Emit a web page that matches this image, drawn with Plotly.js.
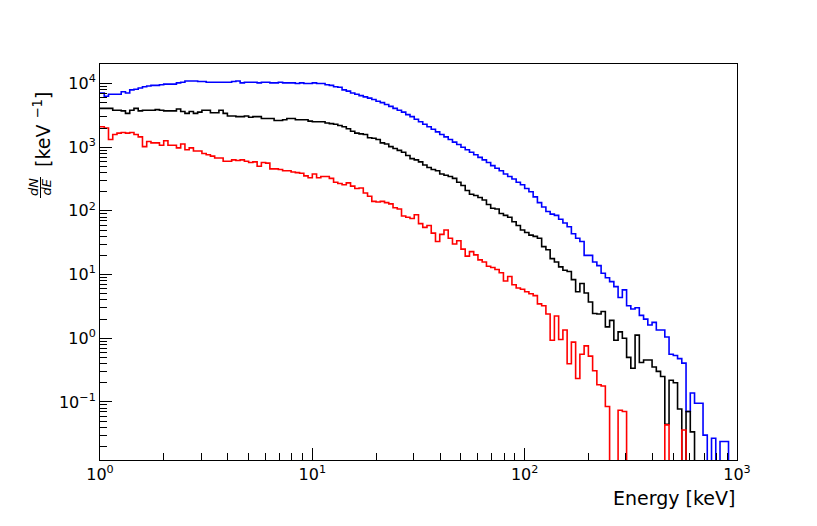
<!DOCTYPE html>
<html>
<head>
<meta charset="utf-8">
<script src="https://cdn.plot.ly/plotly-3.0.1.min.js"></script>
<style>html,body{margin:0;padding:0;background:#fff}#chart{width:817px;height:526px}</style>
</head>
<body>
<div id="chart"></div>
<script>
// Histogram binning: 150 log-spaced bins between 1 keV and 1000 keV
const binCount = 150;
const eMin = 1, eMax = 1000;

// dN/dE per bin, blue series
const blueValues = [
7080,6310,6760,6760,6760,7410,7080,7940,8130,8510,
8910,9120,9330,9330,9550,9770,9770,9770,10230,10470,
10960,10960,10960,10720,10720,10470,10470,10470,10470,10470,
10470,10720,10960,10230,10470,10470,10470,10230,10470,10470,
10230,10230,10470,10230,10230,10230,10000,10230,10000,10000,
10230,10000,10000,9550,9330,8910,8710,7940,7590,7080,
6760,6460,6170,5890,5620,5250,5010,4680,4370,4070,
3800,3550,3240,3020,2750,2510,2290,2090,1910,1740,
1580,1450,1320,1200,1100,1000,912,832,759,692,
631,575,513,468,427,380,347,316,282,257,
224,200,166,135,115,97.7,89.1,85.1,74.1,64.6,
56.2,43.7,37.2,33.1,20.0,20.0,15.8,13.8,10.5,8.91,
7.76,6.46,4.37,5.75,3.24,2.88,3.02,2.29,2.00,1.62,
1.78,1.35,1.35,1.05,0.562,0.537,0.479,0.407,0.0708,0.138,
0.0955,0.0955,0.0302,0,0.0269,0,0.0240,0.0240,0,0
];

// dN/dE per bin, black series
const blackValues = [
4070,4070,4070,3800,3800,3720,3390,3800,4070,3720,
3800,3800,3800,3890,3800,3720,3720,3720,3980,3630,
3390,3630,3390,3550,3800,3800,3470,3470,3800,3390,
3090,3090,3020,3020,3090,2950,3020,3020,2820,2820,
2820,2630,2630,2690,2820,2820,2690,2690,2690,2570,
2510,2510,2510,2400,2340,2290,2190,2090,1950,1780,
1660,1620,1580,1410,1380,1320,1170,1120,1020,955,
891,832,741,661,631,589,525,479,447,427,
380,363,347,324,282,251,209,182,174,162,
148,126,110,107,91.2,85.1,79.4,67.6,58.9,50.1,
45.7,41.7,39.8,37.2,27.5,24.5,17.8,15.8,13.2,11.7,
11.2,8.32,5.37,7.24,5.13,3.72,2.45,2.40,2.63,1.51,
1.91,0.933,1.26,1.00,0.501,0.339,1.12,0.417,0.457,0.457,
0.355,0.302,0.251,0.0447,0.219,0.200,0.0776,0,0.0708,0.0339,
0,0,0,0,0,0,0,0,0,0
];

// dN/dE per bin, red series
const redValues = [
2090,2000,1320,1580,1660,1700,1660,1700,1580,1450,
1020,1230,1170,1170,1070,1260,1070,1070,977,1120,
912,977,871,871,794,759,724,676,676,603,
603,631,617,631,603,575,589,501,575,562,
457,457,447,427,427,407,398,389,355,331,
380,331,347,347,324,282,269,257,275,245,
224,229,191,170,141,138,141,135,129,112,
107,83.2,79.4,75.9,87.1,63.1,55.0,58.9,44.7,33.1,
42.7,50.1,37.2,30.2,33.9,25.1,19.5,22.9,20.4,17.0,
15.8,13.5,12.9,12.0,10.7,7.94,9.33,6.92,6.17,5.89,
5.37,5.01,4.68,3.47,3.24,2.40,0.933,2.24,0.955,1.35,
0.398,0.871,0.234,0.562,0.759,0.525,0.309,0.186,0.178,0.0851,
0,0,0.0741,0.0708,0,0,0,0,0,0,
0,0,0,0.0437,0,0,0,0.0363,0,0,
0,0,0,0,0,0,0,0,0,0
];

const seriesColors = ['#0000ff', '#000000', '#ff0000'];

// Axis tick labels
const xTickVals = [1, 10, 100, 1000];
const xTickText = ['10<sup>0</sup>', '10<sup>1</sup>', '10<sup>2</sup>', '10<sup>3</sup>'];
const yTickVals = [0.1, 1, 10, 100, 1000, 10000];
const yTickText = ['10<sup>\u22121</sup>', '10<sup>0</sup>', '10<sup>1</sup>', '10<sup>2</sup>', '10<sup>3</sup>', '10<sup>4</sup>'];

// bin edges (log spaced)
const lo = Math.log10(eMin), hi = Math.log10(eMax);
const edges = [];
for (let i = 0; i <= binCount; i++) edges.push(Math.pow(10, lo + (hi - lo) * i / binCount));

function minorTicks(decLo, decHi) {
  const out = [];
  for (let d = decLo; d < decHi; d++) for (let m = 2; m <= 9; m++) out.push(m * Math.pow(10, d));
  return out;
}

const FLOOR = 1e-5; // empty bins drop below the visible range
function stepTrace(vals, color) {
  const y = vals.map(v => (v > 0 ? v : FLOOR));
  y.push(y[y.length - 1]);
  return {
    x: edges, y: y, type: 'scatter', mode: 'lines',
    line: {shape: 'hv', color: color, width: 1.6},
    hoverinfo: 'skip', showlegend: false
  };
}

const traces = [
  stepTrace(blueValues, seriesColors[0]),
  stepTrace(blackValues, seriesColors[1]),
  stepTrace(redValues, seriesColors[2])
];

const FONT = 'DejaVu Sans, Arial, sans-serif';
// plot area in pixels: x 100..737, y 64..460
const L = 100, R = 80, T = 64, B = 66, W = 817 - L - R, H = 526 - T - B;
const px = x => (x - L) / W;
const py = y => (526 - B - y) / H;

const layout = {
  width: 817, height: 526,
  margin: {l: L, r: R, t: T, b: B, pad: 0},
  paper_bgcolor: '#ffffff', plot_bgcolor: '#ffffff',
  font: {family: FONT, size: 16, color: '#000'},
  xaxis: {
    type: 'log', range: [0, 3], showgrid: false, zeroline: false,
    showline: true, linecolor: '#000', linewidth: 1, mirror: true,
    tickmode: 'array', tickvals: xTickVals, ticktext: xTickText,
    ticks: 'inside', ticklen: 12, tickwidth: 1, tickcolor: '#000',
    tickfont: {family: FONT, size: 16, color: '#000'},
    minor: {tickmode: 'array', tickvals: minorTicks(0, 3), ticks: 'inside', ticklen: 7, tickwidth: 1, tickcolor: '#000', showgrid: false}
  },
  yaxis: {
    type: 'log', range: [-1.911, 4.306], showgrid: false, zeroline: false,
    showline: true, linecolor: '#000', linewidth: 1, mirror: true,
    tickmode: 'array', tickvals: yTickVals, ticktext: yTickText,
    ticks: 'inside', ticklen: 12, tickwidth: 1, tickcolor: '#000',
    tickfont: {family: FONT, size: 16, color: '#000'},
    minor: {tickmode: 'array', tickvals: minorTicks(-2, 5), ticks: 'inside', ticklen: 7, tickwidth: 1, tickcolor: '#000', showgrid: false}
  },
  annotations: [
    {xref: 'paper', yref: 'paper', x: 1, y: 0, xanchor: 'right', yanchor: 'middle', yshift: -38,
     text: 'Energy [keV]', showarrow: false, font: {family: FONT, size: 19, color: '#000'}},
    {xref: 'paper', yref: 'paper', x: px(42), y: py(129), xanchor: 'center', yanchor: 'middle', textangle: -90,
     text: '[keV <sup>\u22121</sup>]', showarrow: false, font: {family: FONT, size: 19, color: '#000'}},
    {xref: 'paper', yref: 'paper', x: px(34), y: py(187), xanchor: 'center', yanchor: 'middle', textangle: -90,
     text: '<i>dN</i>', showarrow: false, font: {family: FONT, size: 13, color: '#000'}},
    {xref: 'paper', yref: 'paper', x: px(46.5), y: py(187), xanchor: 'center', yanchor: 'middle', textangle: -90,
     text: '<i>dE</i>', showarrow: false, font: {family: FONT, size: 13, color: '#000'}}
  ],
  shapes: [
    {type: 'line', xref: 'paper', yref: 'paper', x0: px(40.5), x1: px(40.5), y0: py(177), y1: py(198),
     line: {color: '#000', width: 1}}
  ]
};

Plotly.newPlot('chart', traces, layout, {displayModeBar: false, staticPlot: true});
</script>
</body>
</html>
